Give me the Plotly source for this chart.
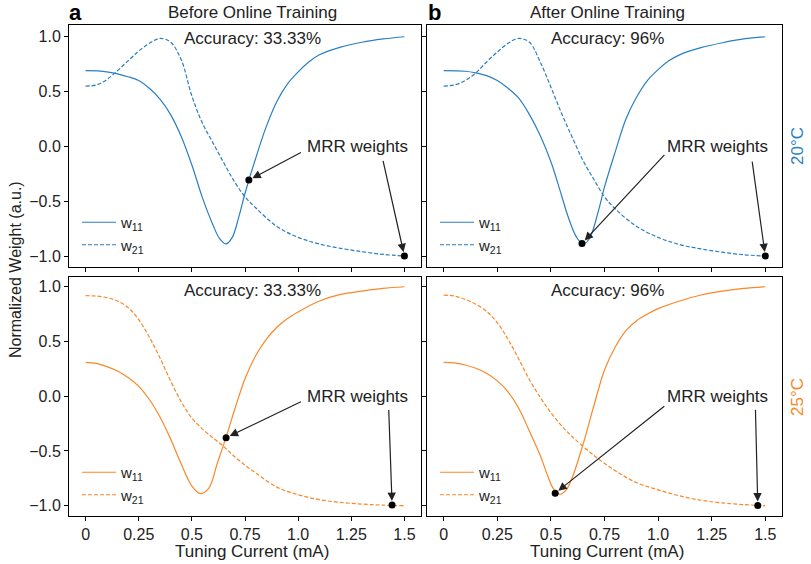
import plotly.graph_objects as go

# ---------------- data ----------------
# Top-left: 20°C, before online training
tl_w11_x = [0, 0.1, 0.2, 0.25, 0.3, 0.35, 0.4, 0.45, 0.5, 0.55, 0.6, 0.63, 0.66, 0.69, 0.72, 0.75, 0.8, 0.85, 0.9, 0.95, 1.0, 1.05, 1.1, 1.2, 1.3, 1.4, 1.5]
tl_w11_y = [0.69, 0.68, 0.635, 0.60, 0.53, 0.43, 0.29, 0.09, -0.17, -0.47, -0.72, -0.84, -0.89, -0.83, -0.65, -0.43, -0.11, 0.18, 0.41, 0.57, 0.68, 0.77, 0.835, 0.905, 0.95, 0.98, 1.0]
tl_w21_x = [0, 0.05, 0.1, 0.15, 0.2, 0.25, 0.3, 0.35, 0.4, 0.45, 0.5, 0.55, 0.6, 0.65, 0.7, 0.75, 0.8, 0.9, 1.0, 1.1, 1.2, 1.3, 1.4, 1.5]
tl_w21_y = [0.55, 0.56, 0.61, 0.69, 0.78, 0.87, 0.94, 0.985, 0.95, 0.79, 0.46, 0.21, 0.03, -0.15, -0.32, -0.46, -0.56, -0.73, -0.83, -0.89, -0.93, -0.96, -0.985, -1.0]
tl_dots_x = [0.768, 1.5]
tl_dots_y = [-0.307, -1.0]

# Top-right: 20°C, after online training
tr_w11_x = [0, 0.1, 0.15, 0.2, 0.25, 0.3, 0.35, 0.4, 0.45, 0.5, 0.55, 0.58, 0.62, 0.65, 0.68, 0.72, 0.75, 0.8, 0.85, 0.9, 0.95, 1.0, 1.05, 1.1, 1.2, 1.3, 1.4, 1.5]
tr_w11_y = [0.69, 0.685, 0.67, 0.645, 0.60, 0.53, 0.44, 0.29, 0.10, -0.14, -0.45, -0.64, -0.83, -0.89, -0.84, -0.60, -0.37, -0.05, 0.25, 0.45, 0.60, 0.70, 0.78, 0.835, 0.90, 0.945, 0.98, 1.0]
tr_w21_x = [0, 0.05, 0.1, 0.15, 0.2, 0.25, 0.3, 0.35, 0.4, 0.45, 0.5, 0.55, 0.6, 0.65, 0.7, 0.75, 0.8, 0.9, 1.0, 1.1, 1.2, 1.3, 1.4, 1.5]
tr_w21_y = [0.55, 0.56, 0.60, 0.67, 0.77, 0.86, 0.94, 0.985, 0.95, 0.77, 0.54, 0.30, 0.08, -0.13, -0.30, -0.46, -0.57, -0.73, -0.83, -0.895, -0.935, -0.965, -0.988, -1.0]
tr_dots_x = [0.645, 1.5]
tr_dots_y = [-0.885, -1.0]

# Bottom-left: 25°C, before online training
bl_w11_x = [0, 0.05, 0.1, 0.15, 0.2, 0.25, 0.3, 0.35, 0.4, 0.45, 0.5, 0.54, 0.58, 0.62, 0.66, 0.7, 0.75, 0.8, 0.85, 0.9, 0.95, 1.0, 1.1, 1.2, 1.3, 1.4, 1.5]
bl_w11_y = [0.31, 0.30, 0.27, 0.23, 0.17, 0.09, -0.03, -0.19, -0.39, -0.62, -0.82, -0.89, -0.84, -0.61, -0.38, -0.13, 0.16, 0.37, 0.52, 0.63, 0.71, 0.77, 0.87, 0.93, 0.96, 0.985, 1.0]
bl_w21_x = [0, 0.05, 0.1, 0.15, 0.2, 0.25, 0.3, 0.35, 0.4, 0.45, 0.5, 0.55, 0.6, 0.65, 0.7, 0.75, 0.8, 0.9, 1.0, 1.1, 1.2, 1.3, 1.4, 1.5]
bl_w21_y = [0.918, 0.915, 0.90, 0.87, 0.81, 0.70, 0.54, 0.35, 0.14, -0.05, -0.20, -0.30, -0.38, -0.46, -0.55, -0.63, -0.70, -0.83, -0.90, -0.945, -0.97, -0.985, -0.995, -1.0]
bl_dots_x = [0.661, 1.442]
bl_dots_y = [-0.379, -0.994]

# Bottom-right: 25°C, after online training
br_w11_x = [0, 0.05, 0.1, 0.15, 0.2, 0.25, 0.3, 0.35, 0.4, 0.45, 0.48, 0.51, 0.54, 0.57, 0.6, 0.65, 0.7, 0.75, 0.8, 0.85, 0.9, 0.95, 1.0, 1.1, 1.2, 1.3, 1.4, 1.5]
br_w11_y = [0.31, 0.305, 0.285, 0.255, 0.21, 0.14, 0.04, -0.11, -0.32, -0.54, -0.70, -0.84, -0.895, -0.86, -0.74, -0.44, -0.09, 0.24, 0.45, 0.60, 0.69, 0.75, 0.80, 0.87, 0.925, 0.96, 0.985, 1.0]
br_w21_x = [0, 0.05, 0.1, 0.15, 0.2, 0.25, 0.3, 0.35, 0.4, 0.45, 0.5, 0.55, 0.6, 0.7, 0.8, 0.9, 1.0, 1.1, 1.2, 1.3, 1.4, 1.5]
br_w21_y = [0.924, 0.915, 0.885, 0.84, 0.775, 0.67, 0.52, 0.34, 0.15, -0.01, -0.15, -0.27, -0.37, -0.54, -0.68, -0.79, -0.855, -0.91, -0.95, -0.975, -0.99, -1.0]
br_dots_x = [0.52, 1.465]
br_dots_y = [-0.886, -0.997]

x_tick_vals = [0, 0.25, 0.5, 0.75, 1.0, 1.25, 1.5]
x_tick_text = ["0", "0.25", "0.5", "0.75", "1.0", "1.25", "1.5"]
y_tick_vals = [-1.0, -0.5, 0.0, 0.5, 1.0]
y_tick_text = ["\u22121.0", "\u22120.5", "0.0", "0.5", "1.0"]

col_titles = ["Before Online Training", "After Online Training"]
panel_letters = ["a", "b"]
accuracies = ["Accuracy: 33.33%", "Accuracy: 96%", "Accuracy: 33.33%", "Accuracy: 96%"]
temps = ["20\u00b0C", "25\u00b0C"]

BLUE = "#2a7fc2"
ORANGE = "#fb8726"
TXT = "#222222"
FONT = "Liberation Sans, Arial, sans-serif"

W, H = 811, 564

def px(xp):
    return xp / W

def py(yp):
    return 1 - yp / H

panels = [
    dict(xa="x", ya="y", w11=(tl_w11_x, tl_w11_y), w21=(tl_w21_x, tl_w21_y), dots=(tl_dots_x, tl_dots_y), color=BLUE, legend="legend",
         tails=[(1.02, -0.049), (1.398, -0.118)]),
    dict(xa="x2", ya="y2", w11=(tr_w11_x, tr_w11_y), w21=(tr_w21_x, tr_w21_y), dots=(tr_dots_x, tr_dots_y), color=BLUE, legend="legend2",
         tails=[(1.036, -0.064), (1.438, -0.125)]),
    dict(xa="x3", ya="y3", w11=(bl_w11_x, bl_w11_y), w21=(bl_w21_x, bl_w21_y), dots=(bl_dots_x, bl_dots_y), color=ORANGE, legend="legend3",
         tails=[(1.02, -0.044), (1.426, -0.111)]),
    dict(xa="x4", ya="y4", w11=(br_w11_x, br_w11_y), w21=(br_w21_x, br_w21_y), dots=(br_dots_x, br_dots_y), color=ORANGE, legend="legend4",
         tails=[(1.036, -0.08), (1.454, -0.111)]),
]

fig = go.Figure()
annotations = []
for i, p in enumerate(panels):
    fig.add_trace(go.Scatter(x=p["w11"][0], y=p["w11"][1], mode="lines", name="w<sub>11</sub>",
                             line=dict(color=p["color"], width=1.2, shape="spline", smoothing=1.0),
                             xaxis=p["xa"], yaxis=p["ya"], legend=p["legend"]))
    fig.add_trace(go.Scatter(x=p["w21"][0], y=p["w21"][1], mode="lines", name="w<sub>21</sub>",
                             line=dict(color=p["color"], width=1.2, dash="4px,2px", shape="spline", smoothing=1.0),
                             xaxis=p["xa"], yaxis=p["ya"], legend=p["legend"]))
    fig.add_trace(go.Scatter(x=p["dots"][0], y=p["dots"][1], mode="markers", showlegend=False,
                             marker=dict(color="black", size=7),
                             xaxis=p["xa"], yaxis=p["ya"]))
    for (tx, ty), dx, dy in zip(p["tails"], p["dots"][0], p["dots"][1]):
        annotations.append(dict(x=dx, y=dy, xref=p["xa"], yref=p["ya"], ax=tx, ay=ty,
                                axref=p["xa"], ayref=p["ya"], text="", showarrow=True,
                                arrowhead=2, arrowsize=1.4, arrowwidth=1.2, arrowcolor=TXT, standoff=4))
    annotations.append(dict(x=1.277, y=-0.005, xref=p["xa"], yref=p["ya"], text="MRR weights",
                            xanchor="center", yanchor="middle",
                            showarrow=False, font=dict(size=17, color=TXT)))

# axes
x_domains = [[px(69), px(421)], [px(427), px(782)]]
y_domains = [[py(267), py(25)], [py(516), py(277)]]
y_ranges = [[-1.1, 1.107], [-1.094, 1.089]]
axis_common = dict(showline=True, linecolor="black", linewidth=1, mirror=True, ticks="outside",
                   ticklen=4, tickcolor="black", showgrid=False, zeroline=False, automargin=False,
                   tickfont=dict(size=16, color=TXT, family=FONT))
layout_axes = {}
for i in range(4):
    r, c = divmod(i, 2)
    sfx = "" if i == 0 else str(i + 1)
    layout_axes["xaxis" + sfx] = dict(axis_common, domain=x_domains[c], range=[-0.078, 1.578],
                                      anchor="y" + sfx, tickvals=x_tick_vals, ticktext=x_tick_text,
                                      showticklabels=(r == 1))
    layout_axes["yaxis" + sfx] = dict(axis_common, domain=y_domains[r], range=y_ranges[r],
                                      anchor="x" + sfx, tickvals=y_tick_vals, ticktext=y_tick_text,
                                      showticklabels=(c == 0))

# text annotations
col_centers = [252, 607]

def paper_text(xx, yy, text, size=17, color=TXT, angle=0):
    return dict(x=px(xx), y=py(yy), xref="paper", yref="paper", text=text, textangle=angle,
                xanchor="center", yanchor="middle", showarrow=False,
                font=dict(size=size, color=color))

for c in range(2):
    annotations.append(paper_text(col_centers[c], 12, col_titles[c]))
    annotations.append(paper_text(col_centers[c], 551, "Tuning Current (mA)"))
annotations.append(paper_text(75, 12, "<b>" + panel_letters[0] + "</b>", size=22, color="black"))
annotations.append(paper_text(434, 12, "<b>" + panel_letters[1] + "</b>", size=22, color="black"))
acc_pos = [(252, 38), (607, 38), (252, 290), (607, 290)]
for (xx, yy), t in zip(acc_pos, accuracies):
    annotations.append(paper_text(xx, yy, t))
annotations.append(paper_text(15, 270, "Normalized Weight (a.u.)", size=16, angle=-90))
annotations.append(paper_text(797, 146, temps[0], size=17, color=BLUE, angle=-90))
annotations.append(paper_text(797, 397, temps[1], size=17, color=ORANGE, angle=-90))

legend_common = dict(bgcolor="rgba(0,0,0,0)", font=dict(size=15, color=TXT), xanchor="left", yanchor="top",
                     tracegroupgap=0, itemwidth=34)
legends = {
    "legend": dict(legend_common, x=px(77), y=py(206)),
    "legend2": dict(legend_common, x=px(435), y=py(206)),
    "legend3": dict(legend_common, x=px(77), y=py(456)),
    "legend4": dict(legend_common, x=px(435), y=py(456)),
}

fig.update_layout(width=W, height=H, margin=dict(l=0, r=0, t=0, b=0),
                  plot_bgcolor="white", paper_bgcolor="white",
                  font=dict(family=FONT, color=TXT), annotations=annotations,
                  **layout_axes, **legends)

fig.write_html("out.html", config={"displayModeBar": False},
               post_script="document.body.style.margin='0';document.body.style.overflow='hidden';")
